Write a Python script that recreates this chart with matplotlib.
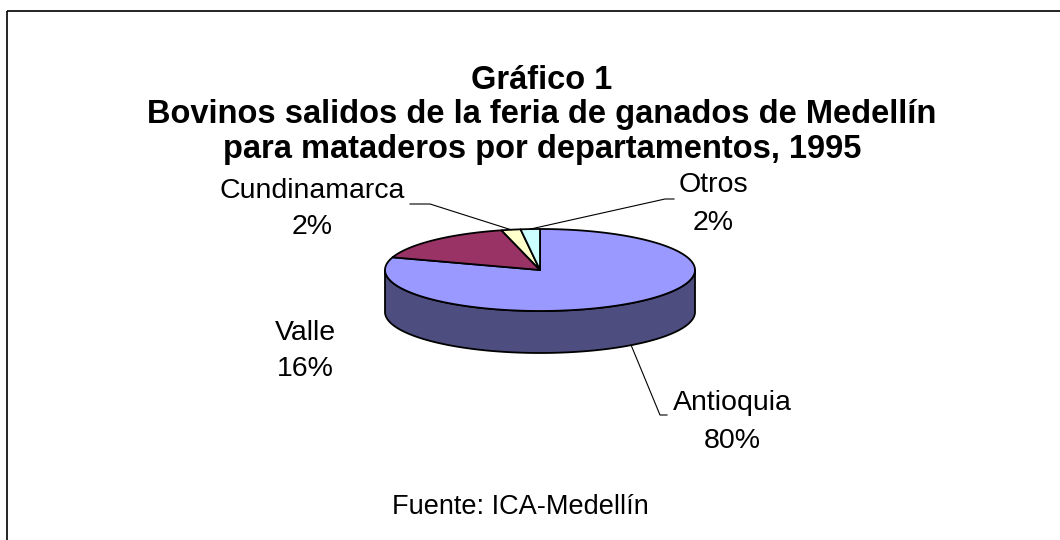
import numpy as np
import matplotlib
matplotlib.use('Agg')
from matplotlib import pyplot as plt
from matplotlib.patches import Polygon, Rectangle

plt.rcParams['font.family'] = ['Liberation Sans', 'DejaVu Sans']

# datos
departamentos = ['Antioquia', 'Valle', 'Cundinamarca', 'Otros']
porcentajes = [80, 16, 2, 2]
colores_top = ['#9999FF', '#993366', '#FFFFCC', '#CCFFFF']
colores_lado = ['#4D4D80', '#4D1A33', '#808066', '#668080']
titulo = 'Gráfico 1\nBovinos salidos de la feria de ganados de Medellín\npara mataderos por departamentos, 1995'
fuente = 'Fuente: ICA-Medellín'

# geometria del pastel (pixeles)
cx, cy = 540, 270
ra, rb = 155, 41
prof = 42

# posiciones de las etiquetas y del codo de la linea guia
pos_etiqueta = {'Antioquia': (732, 422), 'Valle': (305, 351),
                'Cundinamarca': (312, 209), 'Otros': (713, 204)}
codo = {'Antioquia': [(660, 415), (667, 415)], 'Valle': None,
        'Cundinamarca': [(430, 204), (410, 204)], 'Otros': [(665, 199), (674, 199)]}

fig = plt.figure(figsize=(10.6, 5.4), dpi=100)
ax = fig.add_axes([0, 0, 1, 1])
ax.set_xlim(0, 1060)
ax.set_ylim(540, 0)
ax.axis('off')


def punto(t, dy=0):
    return cx + ra * np.cos(np.radians(t)), cy - rb * np.sin(np.radians(t)) + dy


# angulos: empieza arriba y va en sentido horario
total = sum(porcentajes)
inicio = 90.0
rangos = []
for p in porcentajes:
    fin = inicio - 360.0 * p / total
    rangos.append((fin, inicio))
    inicio = fin

# costado (mitad frontal)
for (a0, a1), col in zip(rangos, colores_lado):
    for k in (-360, 0, 360):
        lo = max(a0 + k, -180)
        hi = min(a1 + k, 0)
        if hi > lo:
            t = np.linspace(lo, hi, 100)
            arr = [punto(v) for v in t]
            aba = [punto(v, prof) for v in t[::-1]]
            ax.add_patch(Polygon(arr + aba, closed=True, facecolor=col,
                                 edgecolor='black', lw=1.3, joinstyle='round'))

# caras superiores
for (a0, a1), col in zip(rangos, colores_top):
    t = np.linspace(a0, a1, 200)
    pts = [(cx, cy)] + [punto(v) for v in t]
    ax.add_patch(Polygon(pts, closed=True, facecolor=col, edgecolor='black',
                         lw=1.3, joinstyle='round'))

# etiquetas y lineas guia
for nombre, p, (a0, a1) in zip(departamentos, porcentajes, rangos):
    xl, yl = pos_etiqueta[nombre]
    ax.text(xl, yl, f'{nombre}\n{p}%', ha='center', va='center', fontsize=20.5,
            linespacing=1.55)
    if codo[nombre] is None:
        continue
    m = (a0 + a1) / 2
    dy = prof if np.sin(np.radians(m)) < 0 else 0
    ax0, ay0 = punto(m, dy)
    xs = [ax0] + [c[0] for c in codo[nombre]]
    ys = [ay0] + [c[1] for c in codo[nombre]]
    ax.plot(xs, ys, color='black', lw=0.8)

ax.text(542, 115, titulo, ha='center', va='center', fontsize=23.5,
        fontweight='bold', linespacing=1.16)
ax.text(520, 507, fuente, ha='center', va='center', fontsize=19.5)

# marco
ax.add_patch(Rectangle((7, 11), 1100, 600, facecolor='none', edgecolor='black',
                       lw=1.2, clip_on=False))

fig.savefig('out.png', dpi=100)
